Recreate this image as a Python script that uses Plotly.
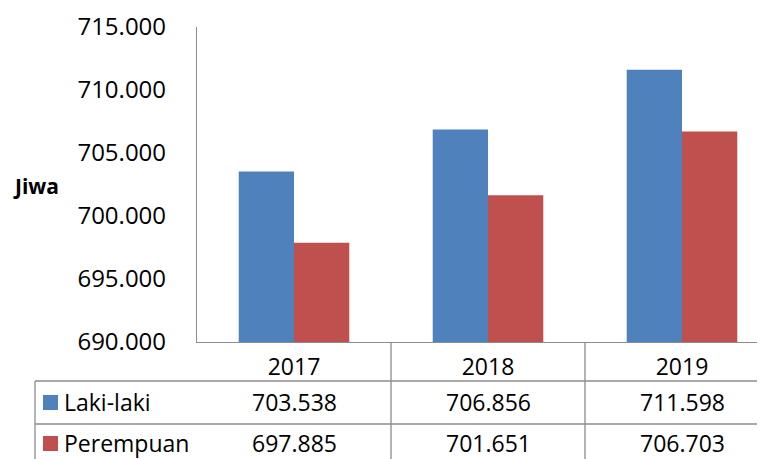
import plotly.graph_objects as go

years = ["2017", "2018", "2019"]
laki_laki = [703538, 706856, 711598]
perempuan = [697885, 701651, 706703]
series_names = ["Laki-laki", "Perempuan"]
series_colors = ["#4F81BD", "#C0504D"]
y_title = "Jiwa"

# the page body has an 8px margin, so the figure is drawn 8px smaller
OFF = 8
W, H = 765 - OFF, 459 - OFF
ML, MR, MT, MB = 197 - OFF, 0, 27 - OFF, 117
PW, PH = W - ML - MR, H - MT - MB
FONT = "Open Sans"
GRID = "#8C8C8C"


def px_x(x):
    # reference pixel x -> paper x
    return (x - OFF - ML) / PW


def px_y(y):
    # reference pixel y -> paper y
    return (H - MB - (y - OFF)) / PH


def fmt(v):
    return f"{v:,}".replace(",", ".")


fig = go.Figure()
for name, vals, col in zip(series_names, [laki_laki, perempuan], series_colors):
    fig.add_trace(go.Bar(x=years, y=vals, name=name, marker=dict(color=col, line=dict(width=0))))

# visible width holds about 2.9 category bands (right edge is cut off)
band = 194
x_right = -0.5 + PW / band

shapes = []
# vertical separators between categories, reaching into the table
for i in range(len(years)):
    shapes.append(dict(type="line", xref="x", yref="paper", x0=i + 0.5, x1=i + 0.5,
                       y0=0, y1=px_y(470), line=dict(color=GRID, width=1.3)))
# left border of series rows
shapes.append(dict(type="line", xref="paper", yref="paper", x0=px_x(35), x1=px_x(35),
                   y0=px_y(381), y1=px_y(470), line=dict(color=GRID, width=1.3)))
# horizontal row lines
for ry in [381, 424]:
    shapes.append(dict(type="line", xref="paper", yref="paper", x0=px_x(35), x1=px_x(780),
                       y0=px_y(ry), y1=px_y(ry), line=dict(color=GRID, width=1.3)))

annotations = []
row_centers = [402, 443]
for r, (name, vals, col) in enumerate(zip(series_names, [laki_laki, perempuan], series_colors)):
    cy = row_centers[r]
    shapes.append(dict(type="rect", xref="paper", yref="paper", x0=px_x(43), x1=px_x(58),
                       y0=px_y(cy - 7), y1=px_y(cy + 8), fillcolor=col, line=dict(width=0)))
    annotations.append(dict(text=name, xref="paper", yref="paper", x=px_x(63), y=px_y(cy),
                            xanchor="left", yanchor="middle", showarrow=False, borderpad=0,
                            font=dict(size=23, color="#000000", family=FONT)))
    for i, v in enumerate(vals):
        annotations.append(dict(text=fmt(v), xref="x", yref="paper", x=i, y=px_y(cy),
                                xanchor="center", yanchor="middle", showarrow=False, borderpad=0,
                                font=dict(size=23, color="#000000", family=FONT)))

annotations.append(dict(text="<b>" + y_title + "</b>", xref="paper", yref="paper",
                        x=px_x(11), y=px_y(186), xanchor="left", yanchor="middle",
                        showarrow=False, font=dict(size=21, color="#000000", family=FONT)))

fig.update_layout(
    width=W, height=H,
    margin=dict(l=ML, r=MR, t=MT, b=MB),
    paper_bgcolor="white", plot_bgcolor="white",
    separators=",.",
    barmode="group", bargap=0.43, bargroupgap=0,
    showlegend=False,
    font=dict(family=FONT, color="#000000"),
    xaxis=dict(type="category", range=[-0.5, x_right], showgrid=False, zeroline=False,
               showline=True, linecolor=GRID, linewidth=1.3, ticks="",
               tickfont=dict(size=23, family=FONT, color="#000000"), ticklabelstandoff=4),
    yaxis=dict(range=[690000, 715000], dtick=5000, tickformat=",.0f", showgrid=False,
               zeroline=False, showline=True, linecolor=GRID, linewidth=1.3, ticks="",
               ticklabelstandoff=25, tickfont=dict(size=24, family=FONT, color="#000000")),
    shapes=shapes,
    annotations=annotations,
)

fig.write_html("out.html")
